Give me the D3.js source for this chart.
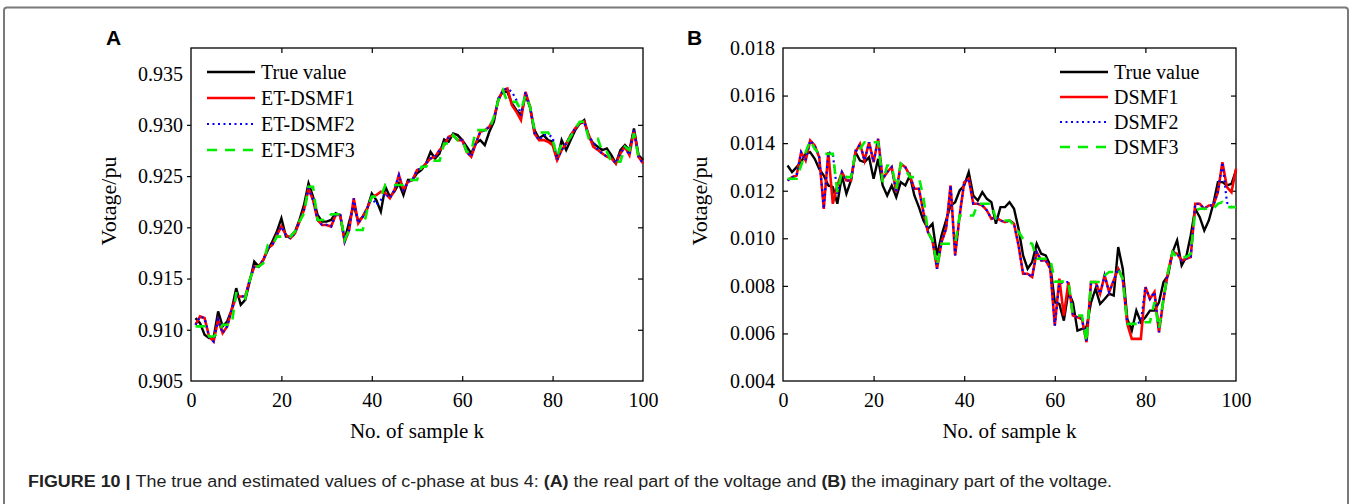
<!DOCTYPE html>
<html>
<head>
<meta charset="utf-8">
<script src="https://d3js.org/d3.v7.min.js"></script>
<style>
  body { margin: 0; background: #fff; }
</style>
</head>
<body>
<svg id="fig" width="1352" height="504" font-family="Liberation Serif, Times New Roman, serif"></svg>
<script>
// sample index k = 1..100
const xTicks = [0, 20, 40, 60, 80, 100];
const aYTicks = [0.905, 0.910, 0.915, 0.920, 0.925, 0.930, 0.935];
const bYTicks = [0.004, 0.006, 0.008, 0.010, 0.012, 0.014, 0.016, 0.018];
const aNames = ["True value", "ET-DSMF1", "ET-DSMF2", "ET-DSMF3"];
const bNames = ["True value", "DSMF1", "DSMF2", "DSMF3"];

// panel A: real part
const aTrue = [
  .91114,.91065,.90951,.90919,.90919,.91179,.91033,.91081,.91195,.91406,
  .91244,.91292,.91471,.91666,.91617,.91682,.91779,.91861,.91958,.92088,
  .91909,.91909,.91958,.92072,.92218,.92429,.92299,.9212,.92055,.92055,
  .92072,.92137,.9212,.91877,.92055,.92218,.92055,.92104,.92185,.92331,
  .92266,.92153,.92396,.92299,.92348,.92429,.92315,.92461,.92461,.92526,
  .92559,.92624,.92737,.92672,.92721,.92857,.92835,.92916,.929,.92851,
  .92786,.92721,.92818,.92851,.92802,.92932,.9303,.93257,.93322,.93322,
  .93208,.93143,.93094,.93289,.93176,.92948,.92867,.929,.92851,.92835,
  .92656,.92851,.92754,.92851,.92948,.93013,.93046,.92883,.92818,.92786,
  .92754,.9277,.92705,.92624,.92754,.92802,.92754,.92965,.92705,.92656];
const aDsmf1 = [
  .91049,.9113,.91114,.90935,.90886,.91098,.90968,.91033,.91195,.91325,
  .91325,.91325,.91487,.91617,.91617,.91682,.91796,.91828,.91926,.92007,
  .91926,.91893,.91942,.92055,.92169,.9238,.92266,.92072,.92023,.92023,
  .92007,.9212,.9212,.91861,.91974,.92283,.92039,.92104,.92185,.92299,
  .92315,.92348,.92331,.92283,.92364,.9251,.92364,.92445,.92461,.92559,
  .92575,.92624,.92672,.92689,.92754,.92802,.92883,.929,.92851,.92851,
  .92737,.92689,.92818,.92932,.92948,.92981,.93062,.93241,.93338,.93354,
  .93192,.93127,.93046,.93322,.93176,.92916,.92851,.92851,.92835,.92802,
  .92656,.92754,.92818,.929,.92965,.93013,.9303,.929,.92786,.92754,
  .92721,.92689,.92672,.92624,.92721,.92786,.92705,.92948,.92689,.92624];
const aDsmf2 = [
  .91049,.9113,.91114,.90935,.90886,.91098,.90968,.91033,.91195,.91325,
  .91325,.91325,.91487,.91617,.91617,.91682,.91796,.91828,.91926,.92007,
  .91926,.91893,.91942,.92055,.92169,.9238,.92266,.92072,.92023,.92023,
  .92007,.9212,.9212,.91861,.91974,.92283,.92039,.92104,.92185,.92299,
  .92218,.92266,.92331,.92283,.92364,.9251,.92364,.92445,.92461,.92559,
  .92575,.92624,.92672,.92689,.92754,.92802,.92883,.929,.92851,.92851,
  .92737,.92689,.92818,.92932,.92948,.92981,.93062,.93241,.93338,.93354,
  .93322,.93241,.93094,.93322,.93176,.92916,.92851,.929,.929,.92883,
  .92656,.92754,.92818,.929,.92965,.93013,.9303,.92883,.92835,.92754,
  .92721,.92689,.92672,.92624,.92721,.92786,.92705,.92948,.92689,.92624];
const aDsmf3 = [
  .91033,.91033,.91033,.90935,.90935,.90968,.91049,.91049,.91049,.91357,
  .91357,.91309,.91487,.91617,.91617,.9165,.91828,.91828,.91909,.91909,
  .91909,.91909,.91958,.92055,.92137,.92396,.92396,.92072,.92072,.92072,
  .92128,.92128,.92128,.91877,.91974,.91974,.91974,.91974,.92169,.92299,
  .92299,.92299,.92413,.92413,.92413,.92413,.92413,.92461,.92461,.92461,
  .92591,.92591,.92649,.92649,.92649,.92818,.92818,.929,.92851,.92851,
  .92737,.92737,.92948,.92948,.92948,.92948,.93078,.93241,.93338,.93224,
  .93224,.93224,.93143,.93289,.93176,.92948,.92926,.92926,.92926,.92851,
  .92689,.92818,.92818,.92883,.92965,.9303,.9303,.92867,.92867,.92867,
  .92737,.92737,.9264,.9264,.9264,.92786,.92754,.92916,.92689,.92689];

// panel B: imaginary part
const bTrue = [
  .01306,.01278,.01299,.0132,.01355,.01362,.01334,.01292,.01264,.01222,
  .01215,.01145,.01264,.01187,.01243,.01362,.01327,.0132,.01341,.0125,
  .01334,.01222,.0118,.01222,.01173,.01236,.01222,.01264,.0118,.01131,
  .01075,.0104,.01061,.00928,.01012,.01075,.01138,.01152,.01201,.01222,
  .01278,.0118,.01159,.01194,.01166,.01152,.01061,.01131,.01131,.01152,
  .01124,.0104,.00928,.00872,.009,.00977,.00935,.00928,.00886,.00731,
  .00724,.00654,.00774,.00731,.00612,.00619,.00626,.00731,.00788,.00724,
  .00745,.00767,.00759,.00963,.00872,.00661,.00612,.00696,.00647,.00668,
  .00696,.00696,.00731,.00816,.00844,.00942,.00991,.00886,.00921,.01012,
  .01124,.01089,.01033,.01075,.01145,.01236,.01236,.01222,.01229,.01285];
const bDsmf1 = [
  .01243,.01257,.01264,.01362,.01327,.01411,.0139,.01341,.01124,.01362,
  .01145,.01222,.01278,.01243,.01243,.01362,.01397,.01327,.01404,.0132,
  .01418,.0125,.01278,.01299,.01194,.01313,.01299,.01264,.01208,.01208,
  .0111,.01026,.00991,.00872,.00984,.0104,.01222,.00928,.01096,.01236,
  .0125,.01145,.01145,.01138,.01117,.01082,.01089,.01075,.01068,.01075,
  .01061,.0097,.00851,.00851,.00837,.00942,.00907,.00907,.00872,.00633,
  .0083,.00675,.00816,.00675,.00668,.00661,.00563,.00816,.00816,.00767,
  .00844,.00774,.00823,.00872,.0083,.0064,.00577,.00577,.00577,.00795,
  .00745,.00774,.00605,.00745,.00858,.00942,.00935,.00907,.00914,.00921,
  .01145,.01145,.01124,.01138,.01138,.01194,.0132,.01215,.01194,.01292];
const bDsmf2 = [
  .01243,.01257,.01264,.01362,.01327,.01411,.0139,.01341,.01124,.01362,
  .01355,.01187,.01278,.01243,.01243,.01362,.01397,.01327,.01404,.0132,
  .01418,.0125,.01278,.01299,.01194,.01313,.01299,.01264,.01208,.01208,
  .0111,.01026,.00991,.00872,.00984,.0104,.01222,.00928,.01096,.01236,
  .0125,.01145,.01145,.01138,.01117,.01082,.01089,.01075,.01068,.01075,
  .01061,.0097,.00851,.00851,.00837,.00942,.00907,.00907,.00872,.00633,
  .0081,.00816,.00816,.00675,.00668,.00661,.00563,.00816,.00816,.00767,
  .00844,.00774,.00823,.00872,.0083,.0064,.0064,.0064,.0065,.00795,
  .00745,.00774,.00605,.00745,.00858,.00942,.00935,.00907,.00914,.00921,
  .01145,.01145,.01124,.01138,.01138,.01194,.0132,.0115,.01131,.01131];
const bDsmf3 = [
  .0125,.0125,.0125,.01306,.01362,.01411,.01376,.01355,.01355,.01355,
  .01355,.01194,.01278,.01257,.01257,.01362,.01376,.01404,.01404,.01404,
  .01404,.01236,.01306,.01306,.01208,.01313,.01292,.01257,.01257,.01257,
  .01173,.01026,.00991,.00886,.00977,.00977,.00977,.00977,.01096,.01096,
  .01096,.01096,.01145,.01145,.01145,.01145,.01082,.01075,.01075,.01075,
  .01054,.01026,.00998,.00984,.00977,.00914,.00914,.00914,.00914,.00818,
  .00818,.00818,.00818,.00675,.00675,.00675,.00563,.00816,.00816,.00816,
  .00844,.00858,.00858,.00872,.0083,.0064,.0064,.0064,.0064,.00647,
  .00647,.00731,.00619,.00745,.00858,.00942,.00921,.00921,.00921,.00935,
  .01117,.01124,.01124,.01124,.01124,.01145,.01152,.01131,.01131,.01131];

const styles = [
  { color: "#000000", width: 2.4, dash: null },
  { color: "#ff0000", width: 2.6, dash: null },
  { color: "#0000ff", width: 2.2, dash: "2,3.5" },
  { color: "#00ee00", width: 2.6, dash: "10,8" }
];

const svg = d3.select("#fig");

// outer figure frame
svg.append("rect")
  .attr("x", 4).attr("y", 7.5)
  .attr("width", 1344).attr("height", 530)
  .attr("rx", 3)
  .attr("fill", "none")
  .attr("stroke", "#7a7a7a")
  .attr("stroke-width", 2);

function drawPanel(opt) {
  const x = d3.scaleLinear().domain([0, 100]).range([opt.left, opt.right]);
  const y = d3.scaleLinear().domain(opt.yDomain).range([opt.bottom, opt.top]);
  const g = svg.append("g");

  // bottom axis with labels, ticks pointing in
  const bx = g.append("g")
    .attr("transform", `translate(0,${opt.bottom})`)
    .call(d3.axisBottom(x).tickValues(xTicks).tickSizeInner(-5).tickSizeOuter(0).tickPadding(12));
  // top axis ticks only
  const tx = g.append("g")
    .attr("transform", `translate(0,${opt.top})`)
    .call(d3.axisTop(x).tickValues(xTicks).tickSizeInner(-5).tickSizeOuter(0).tickFormat(""));
  // left axis
  const ly = g.append("g")
    .attr("transform", `translate(${opt.left},0)`)
    .call(d3.axisLeft(y).tickValues(opt.yTicks).tickSizeInner(opt.leftTick).tickSizeOuter(0)
      .tickPadding(opt.leftPad).tickFormat(d3.format(".3f")));
  // right axis ticks only
  const ry = g.append("g")
    .attr("transform", `translate(${opt.right},0)`)
    .call(d3.axisRight(y).tickValues(opt.yTicks).tickSizeInner(-5).tickSizeOuter(0).tickFormat(""));

  [bx, tx, ly, ry].forEach(a => {
    a.attr("font-family", null).attr("font-size", null);
    a.select(".domain").remove();
    a.selectAll(".tick line").attr("stroke", "#000").attr("stroke-width", 1.2);
    a.selectAll(".tick text")
      .attr("font-size", 20)
      .attr("fill", "#000");
  });
  // hide end ticks that sit on the frame corners
  [tx, bx].forEach(a => a.selectAll(".tick line").filter(d => d === 0 || d === 100).remove());
  [ly, ry].forEach(a => a.selectAll(".tick line")
    .filter(d => d === opt.yTicks[0] || d === opt.yTicks[opt.yTicks.length - 1]).remove());

  // plot frame
  g.append("rect")
    .attr("x", opt.left).attr("y", opt.top)
    .attr("width", opt.right - opt.left).attr("height", opt.bottom - opt.top)
    .attr("fill", "none").attr("stroke", "#000").attr("stroke-width", 1.3);

  const line = d3.line().x((d, i) => x(i + 1)).y(d => y(d));
  opt.series.forEach((s, i) => {
    g.append("path")
      .datum(s)
      .attr("d", line)
      .attr("fill", "none")
      .attr("stroke", styles[i].color)
      .attr("stroke-width", styles[i].width)
      .attr("stroke-linejoin", "miter")
      .attr("stroke-dasharray", styles[i].dash);
  });

  // legend
  opt.names.forEach((n, i) => {
    const yy = opt.legY + i * opt.legStep;
    g.append("line")
      .attr("x1", opt.legX).attr("x2", opt.legX + 48)
      .attr("y1", yy).attr("y2", yy)
      .attr("stroke", styles[i].color)
      .attr("stroke-width", styles[i].width)
      .attr("stroke-dasharray", styles[i].dash);
    g.append("text")
      .attr("x", opt.legX + 54).attr("y", yy + 7)
      .attr("font-size", 20)
      .text(n);
  });

  // axis titles
  g.append("text")
    .attr("x", (opt.left + opt.right) / 2).attr("y", 438)
    .attr("text-anchor", "middle")
    .attr("font-size", 21)
    .text("No. of sample k");
  g.append("text")
    .attr("transform", `translate(${opt.yTitleX},201) rotate(-90)`)
    .attr("text-anchor", "middle")
    .attr("font-size", 22)
    .text("Votage/pu");

  // panel letter
  g.append("text")
    .attr("x", opt.letterX).attr("y", 45)
    .attr("font-family", "Liberation Sans, Arial, sans-serif")
    .attr("font-weight", "bold")
    .attr("font-size", 21)
    .text(opt.letter);
}

drawPanel({
  left: 191, right: 643, top: 48, bottom: 381,
  yDomain: [0.905, 0.9375], yTicks: aYTicks,
  leftTick: 4, leftPad: 4,
  series: [aTrue, aDsmf1, aDsmf2, aDsmf3],
  names: aNames, legX: 207, legY: 72, legStep: 26,
  yTitleX: 116, letter: "A", letterX: 106
});

drawPanel({
  left: 783, right: 1236, top: 48, bottom: 381,
  yDomain: [0.004, 0.018], yTicks: bYTicks,
  leftTick: -5, leftPad: 8,
  series: [bTrue, bDsmf1, bDsmf2, bDsmf3],
  names: bNames, legX: 1060, legY: 72, legStep: 25,
  yTitleX: 707, letter: "B", letterX: 687
});

// caption
const cap = svg.append("text")
  .attr("x", 28).attr("y", 487)
  .attr("font-family", "Liberation Sans Narrow, Liberation Sans, Arial, sans-serif")
  .attr("font-size", 17)
  .attr("fill", "#222");
const parts = [
  ["FIGURE 10 | ", true],
  ["The true and estimated values of c-phase at bus 4: ", false],
  ["(A)", true],
  [" the real part of the voltage and ", false],
  ["(B)", true],
  [" the imaginary part of the voltage.", false]
];
parts.forEach(p => {
  cap.append("tspan")
    .attr("font-weight", p[1] ? "bold" : "normal")
    .text(p[0]);
});
const capW = cap.node().getComputedTextLength();
const sx = (1113 - 28) / capW;
cap.attr("transform", `translate(28,0) scale(${sx},1) translate(-28,0)`);
</script>
</body>
</html>
